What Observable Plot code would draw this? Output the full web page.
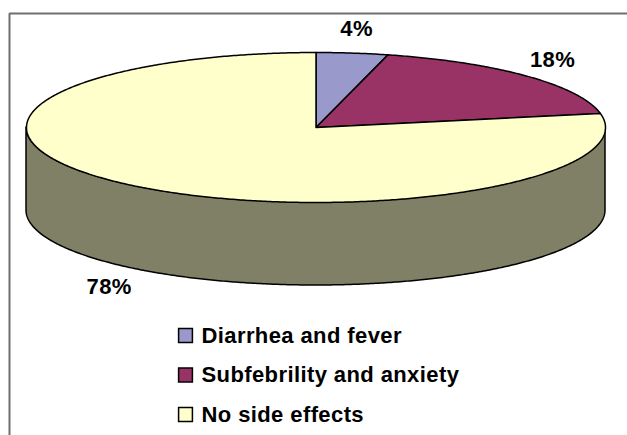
<!DOCTYPE html>
<html>
<head>
<meta charset="utf-8">
<script src="https://cdn.jsdelivr.net/npm/d3@7"></script>
<script src="https://cdn.jsdelivr.net/npm/@observablehq/plot@0.6"></script>
<style>
  html, body { margin: 0; padding: 0; background: #fff; }
  #chart svg text { letter-spacing: 0.4px; }
</style>
</head>
<body>
<div id="chart"></div>
<script>
// ---- data ----
const categories = ["Diarrhea and fever", "Subfebrility and anxiety", "No side effects"];
const values = [4, 18, 78];
const colors = ["#9999CC", "#993366", "#FFFFCC"];
const sideColors = ["#4D4D66", "#4D1A33", "#808066"];
const labels = values.map(v => `${v}%`);

// ---- layout ----
const W = 627, H = 435;
const cx = 315.5, cy = 127, rx = 289.5, ry = 75, depth = 83;
const total = d3.sum(values);
const deg = Math.PI / 180;

// slices: angles clockwise from 12 o'clock
let acc = 0;
const slices = values.map((v, i) => {
  const a0 = acc / total * 2 * Math.PI;
  acc += v;
  const a1 = acc / total * 2 * Math.PI;
  return {i, a0, a1, mid: (a0 + a1) / 2};
});
const ex = t => cx + rx * Math.sin(t);
const ey = t => cy - ry * Math.cos(t);

// top-face polygons
function slicePoints(s) {
  const pts = [{x: cx, y: cy}];
  const n = Math.max(2, Math.ceil((s.a1 - s.a0) / (0.5 * deg)));
  for (let k = 0; k <= n; k++) {
    const t = s.a0 + (s.a1 - s.a0) * k / n;
    pts.push({x: ex(t), y: ey(t)});
  }
  pts.push({x: cx, y: cy});
  return pts;
}

// side (front half, 90deg -> 270deg), split by slice
function sidePoints(s) {
  const lo = Math.max(s.a0, Math.PI / 2), hi = Math.min(s.a1, 3 * Math.PI / 2);
  if (hi <= lo) return [];
  const n = Math.max(2, Math.ceil((hi - lo) / (0.5 * deg)));
  const pts = [];
  for (let k = 0; k <= n; k++) {
    const t = lo + (hi - lo) * k / n;
    pts.push({x: ex(t), y1: ey(t), y2: ey(t) + depth});
  }
  return pts;
}

// label anchors derived from slice mid-angles
const labelData = slices.map(s => {
  const sn = Math.sin(s.mid), cs = Math.cos(s.mid);
  return {
    text: labels[s.i],
    x: ex(s.mid) + 35 * sn,
    y: ey(s.mid) - 24 * cs + (cs < 0 ? depth : 0)
  };
});

// legend
const legendX = 185, legendY0 = 335, legendStep = 39.5;
const legendData = categories.map((c, i) => ({c, i, x: legendX, tx: legendX + 16, y: legendY0 + i * legendStep, color: colors[i]}));

// frame (top & left edges of the chart area)
const frameData = [{x: 9, y: H}, {x: 9, y: 13}, {x: W, y: 13}];

const font = "Liberation Sans, Arial, Helvetica, sans-serif";

const marks = [
  Plot.line(frameData, {x: "x", y: "y", stroke: "#6f6f6f", strokeWidth: 2, strokeLinecap: "butt", strokeLinejoin: "miter"})
];
slices.forEach(s => {
  const pts = sidePoints(s);
  if (pts.length) marks.push(Plot.areaY(pts, {x: "x", y1: "y1", y2: "y2", fill: sideColors[s.i], stroke: "black", strokeWidth: 1.5, strokeLinejoin: "round"}));
});
slices.forEach(s => {
  marks.push(Plot.line(slicePoints(s), {x: "x", y: "y", fill: colors[s.i], stroke: "black", strokeWidth: 1.5, strokeLinejoin: "round"}));
});
marks.push(
  Plot.text(labelData, {x: "x", y: "y", text: "text", fontSize: 22, fontWeight: "bold", fill: "black", fontFamily: font}),
  Plot.dot(legendData, {x: "x", y: "y", symbol: "square", r: 7.8, fill: "color", stroke: "black", strokeWidth: 1.5}),
  Plot.text(legendData, {x: "tx", y: "y", text: "c", textAnchor: "start", fontSize: 22, fontWeight: "bold", fill: "black", fontFamily: font})
);

const chart = Plot.plot({
  width: W,
  height: H,
  margin: 0,
  x: {domain: [0, W], range: [0, W], axis: null},
  y: {domain: [0, H], range: [0, H], axis: null},
  color: {type: "identity"},
  style: {background: "white", fontFamily: font},
  marks
});
document.getElementById("chart").appendChild(chart);
</script>
</body>
</html>
